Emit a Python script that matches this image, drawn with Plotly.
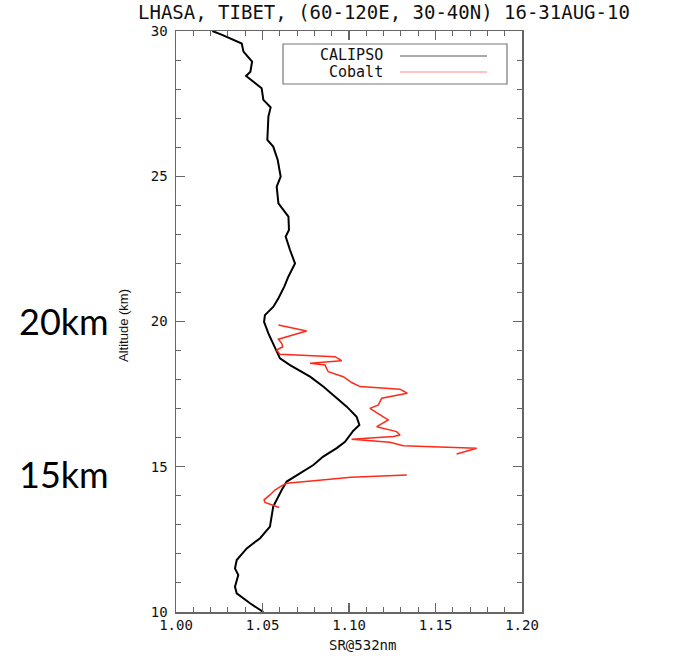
import plotly.graph_objects as go

# ---------------- data ----------------
calipso_alt = [30.0, 29.86, 29.57, 29.29, 28.95, 28.6, 28.45, 28.03, 27.63, 27.37,
               27.05, 26.25, 26.02, 25.56, 24.99, 24.64, 24.07, 23.61, 23.15, 22.92,
               22.46, 22.0, 21.55, 21.2, 20.8, 20.51, 20.22, 19.99, 19.59, 19.13,
               18.73, 18.50, 18.10, 17.76, 17.36, 17.07, 16.72, 16.44, 16.24, 15.86,
               15.64, 15.35, 15.06, 14.77, 14.49, 14.20, 13.86, 13.63, 12.94, 12.54,
               12.19, 11.79, 11.50, 11.27, 10.87, 10.64, 10.30, 10.0]
calipso_sr = [1.021, 1.027, 1.038, 1.039, 1.044, 1.043, 1.0405, 1.0495, 1.0505, 1.0547,
              1.0534, 1.0528, 1.0562, 1.0588, 1.0605, 1.0582, 1.0592, 1.065, 1.0653, 1.0634,
              1.0659, 1.0688, 1.065, 1.0626, 1.0592, 1.0563, 1.0514, 1.0509, 1.0534, 1.0572,
              1.0601, 1.0659, 1.0775, 1.0851, 1.0929, 1.0987, 1.1044, 1.106, 1.1025, 1.0977,
              1.0929, 1.0851, 1.0794, 1.0717, 1.064, 1.0611, 1.0582, 1.0562, 1.0543, 1.0486,
              1.0409, 1.0351, 1.0341, 1.036, 1.0341, 1.0351, 1.0428, 1.0505]

cobalt_alt = [19.88, 19.67, 19.39, 19.25, 19.13, 19.02, 18.87, 18.79, 18.65, 18.56,
              18.50, 18.27, 18.10, 17.90, 17.76, 17.67, 17.53, 17.36, 17.13, 17.01,
              16.75, 16.61, 16.38, 16.21, 16.09, 16.04, 15.95, 15.84, 15.72, 15.67,
              15.64, 15.44, None,
              14.72, 14.64, 14.57, 14.49, 14.43, 14.34, 14.20, 14.03, 13.86, 13.77,
              13.68, 13.60]
cobalt_sr = [1.0592, 1.0755, 1.0592, 1.0611, 1.0617, 1.0582, 1.0601, 1.0919, 1.0958, 1.0775,
             1.0861, 1.088, 1.0967, 1.1015, 1.1064, 1.1295, 1.1337, 1.1189, 1.117, 1.1121,
             1.1189, 1.1227, 1.116, 1.1275, 1.1295, 1.1256, 1.1015, 1.1237, 1.1314, 1.1584,
             1.1738, 1.1622, None,
             1.1334, 1.101, 1.089, 1.0755, 1.064, 1.061, 1.0572, 1.0543, 1.0509, 1.0514,
             1.0553, 1.0597]

x_ticks = [1.00, 1.05, 1.10, 1.15, 1.20]
x_tick_labels = ["1.00", "1.05", "1.10", "1.15", "1.20"]
y_ticks = [10, 15, 20, 25, 30]
y_tick_labels = ["10", "15", "20", "25", "30"]

title_text = "LHASA, TIBET, (60-120E, 30-40N) 16-31AUG-10"
series_names = ["CALIPSO", "Cobalt"]
side_labels = ["20km", "15km"]

# ---------------- layout geometry (screen pixels) ----------------
W, H = 689, 656
L, R, T, B = 176, 522, 31, 612   # plot area in screen pixels
PW, PH = R - L, B - T


def px(xp):
    return (xp - L) / PW


def py(yp):
    return (B - yp) / PH


BLACK = "#000000"
RED = "#ff2a1a"
AXIS = "#666666"
MONO = "DejaVu Sans Mono"

fig = go.Figure()
fig.add_trace(go.Scatter(x=calipso_sr, y=calipso_alt, mode="lines", name=series_names[0],
                         line=dict(color=BLACK, width=2), showlegend=False))
fig.add_trace(go.Scatter(x=cobalt_sr, y=cobalt_alt, mode="lines", name=series_names[1],
                         line=dict(color=RED, width=1.5), connectgaps=False, showlegend=False))

axis_common = dict(
    showgrid=False, zeroline=False, showline=True, linecolor=AXIS, linewidth=1.5,
    mirror="ticks", ticks="inside", ticklen=9, tickwidth=1.2, tickcolor=AXIS,
    tickfont=dict(family=MONO, size=14, color="#111111"),
)

fig.update_xaxes(range=[1.0, 1.2], tickvals=x_ticks, ticktext=x_tick_labels,
                 minor=dict(ticks="inside", dtick=0.01, ticklen=5, tickcolor=AXIS, tickwidth=1),
                 **axis_common)
fig.update_yaxes(range=[10, 30], tickvals=y_ticks, ticktext=y_tick_labels,
                 minor=dict(ticks="inside", dtick=1, ticklen=5, tickcolor=AXIS, tickwidth=1),
                 ticklabelstandoff=4,
                 **axis_common)

annotations = [
    dict(text=title_text, x=px(384), y=py(12), xref="paper", yref="paper",
         xanchor="center", yanchor="middle", showarrow=False, borderpad=0,
         font=dict(family=MONO, size=19, color="#111111")),
    dict(text="SR@532nm", x=px(362), y=py(645), xref="paper", yref="paper",
         xanchor="center", yanchor="middle", showarrow=False,
         font=dict(family=MONO, size=14, color="#111111")),
    dict(text="Altitude (km)", x=px(124), y=py(326), xref="paper", yref="paper",
         xanchor="center", yanchor="middle", showarrow=False, textangle=-90,
         font=dict(family="Liberation Sans Narrow, Liberation Sans", size=13, color="#111111")),
    dict(text=side_labels[0], x=px(17), y=py(321), xref="paper", yref="paper",
         xanchor="left", yanchor="middle", showarrow=False,
         font=dict(family="Lato", size=36, color="#000000")),
    dict(text=side_labels[1], x=px(17), y=py(474), xref="paper", yref="paper",
         xanchor="left", yanchor="middle", showarrow=False,
         font=dict(family="Lato", size=36, color="#000000")),
    # legend labels
    dict(text=series_names[0], x=px(384), y=py(55), xref="paper", yref="paper",
         xanchor="right", yanchor="middle", showarrow=False, borderpad=0,
         font=dict(family=MONO, size=15, color="#111111")),
    dict(text=series_names[1], x=px(384), y=py(72), xref="paper", yref="paper",
         xanchor="right", yanchor="middle", showarrow=False, borderpad=0,
         font=dict(family=MONO, size=15, color="#111111")),
]

shapes = [
    dict(type="rect", xref="paper", yref="paper", x0=px(283), x1=px(507), y0=py(84), y1=py(44),
         line=dict(color="#777777", width=1.2), fillcolor="white", layer="above"),
    dict(type="line", xref="paper", yref="paper", x0=px(400), x1=px(487), y0=py(56), y1=py(56),
         line=dict(color="#555555", width=1)),
    dict(type="line", xref="paper", yref="paper", x0=px(400), x1=px(487), y0=py(72), y1=py(72),
         line=dict(color="#ff8a80", width=1.2)),
]

fig.update_layout(
    width=W, height=H, autosize=False,
    margin=dict(l=L, r=W - R, t=T, b=H - B, pad=0),
    paper_bgcolor="white", plot_bgcolor="white",
    showlegend=False, hovermode=False,
    annotations=annotations, shapes=shapes,
)

# remove the page's default 8px body margin so the figure sits at the window's corner
fig.write_html("out.html", config={"displayModeBar": False, "staticPlot": True},
               post_script="document.body.style.margin='0';")
